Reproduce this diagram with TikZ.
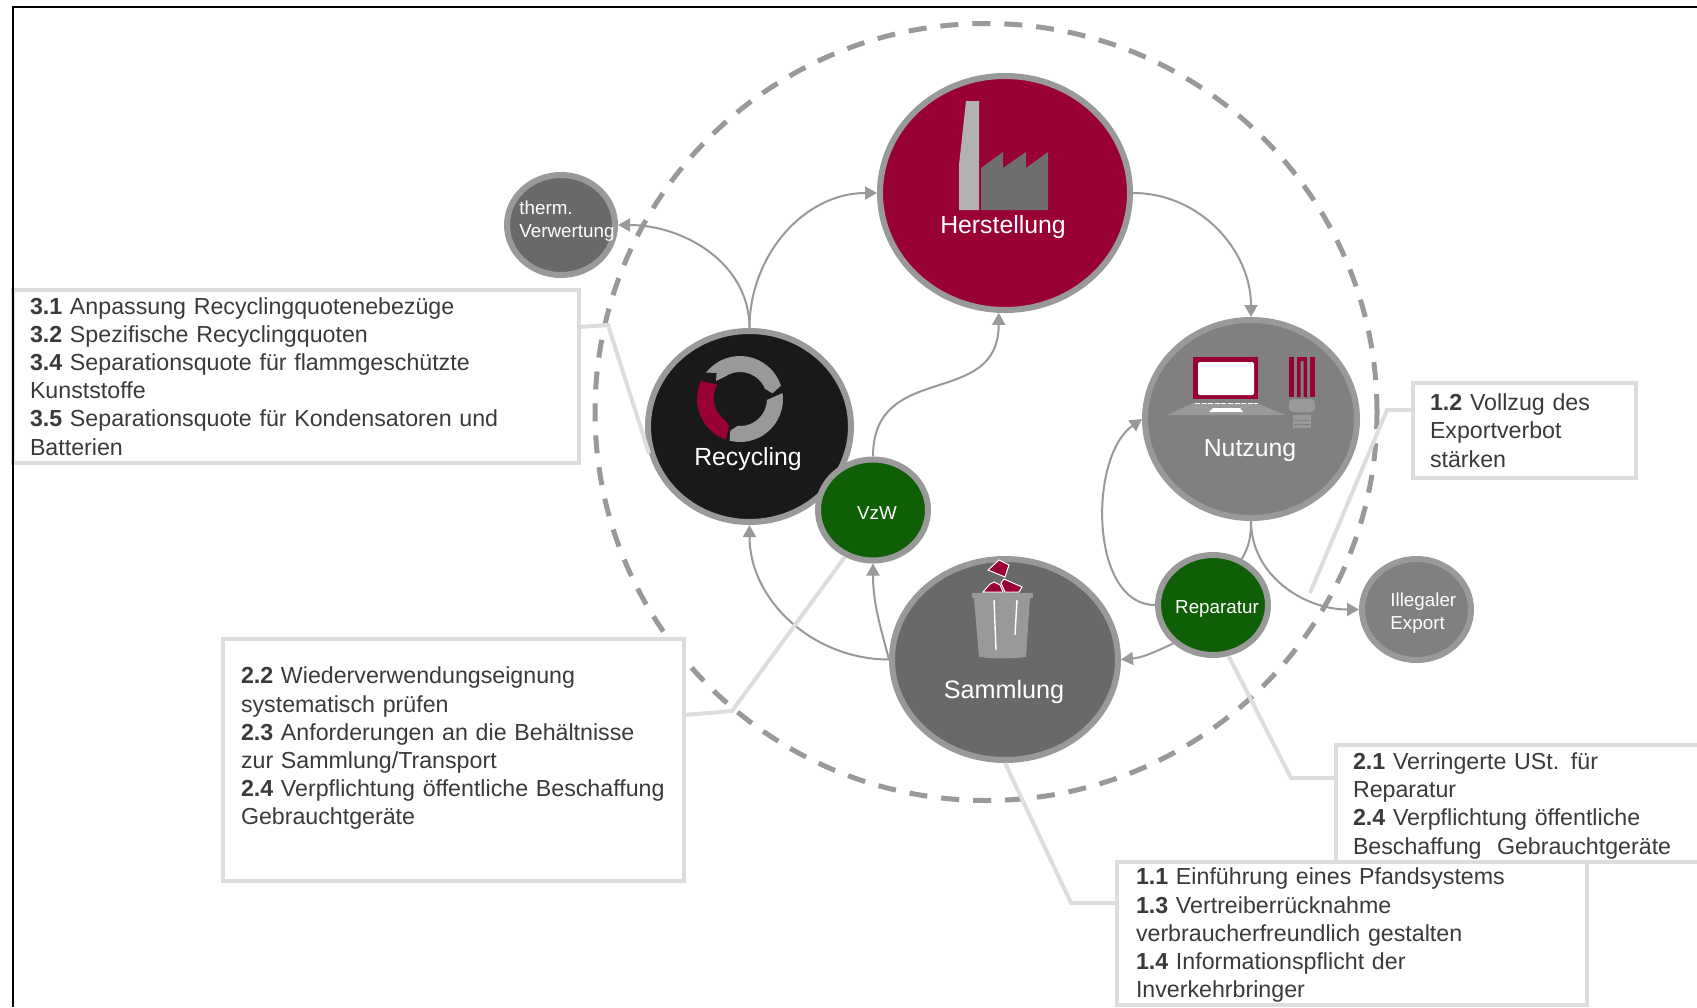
\documentclass[tikz,border=0pt]{standalone}
\usepackage{fontspec}
\setmainfont{Liberation Sans}
\usetikzlibrary{shapes.geometric,arrows.meta}
\definecolor{ringgray}{HTML}{999999}
\definecolor{wine}{HTML}{990033}
\definecolor{leafgreen}{HTML}{0F5F07}
\definecolor{notegray}{HTML}{DDDDDD}
\definecolor{notetext}{HTML}{3A3A3A}
\tikzset{
  stage/.style={ellipse,draw=ringgray,line width=3pt,inner sep=0pt},
  stagetext/.style={text=white,inner sep=0pt,font=\fontsize{12.4}{14}\selectfont},
  sidetext/.style={text=white,inner sep=0pt,align=left,font=\fontsize{9.4}{11.5}\selectfont},
  flow/.style={draw=ringgray,line width=1pt,-{Triangle[length=6pt,width=6.5pt]}},
  flowplain/.style={draw=ringgray,line width=1pt},
  leader/.style={draw=notegray,line width=2pt},
  note/.style={rectangle,draw=notegray,fill=white,line width=2pt,outer sep=0pt,anchor=north west,align=left,
    inner xsep=8.5pt,inner ysep=0pt,text=notetext,font=\fontsize{11.6}{14.1}\selectfont}
}
\begin{document}
\begin{tikzpicture}[x=0.5pt,y=0.5pt]
    \clip (0,0) rectangle (1697,-1007);
    \fill[white] (0,0) rectangle (1697,-1007);
    \node[ellipse,draw=ringgray,line width=2.5pt,dash pattern=on 9pt off 7pt,minimum width=391pt,minimum height=388.5pt,inner sep=0pt] (system) at (986,-412) {};

    \node[stage,fill=wine,minimum width=125pt,minimum height=117pt] (herstellung) at (1005,-193) {};
    \node[stage,fill=black!90,minimum width=101.5pt,minimum height=95.5pt] (recycling) at (749.5,-426.5) {};
    \node[stage,fill=black!50,minimum width=106pt,minimum height=99pt] (nutzung) at (1251,-419) {};
    \node[stage,fill=black!59,minimum width=113pt,minimum height=100.5pt] (sammlung) at (1005,-659.5) {};
    \node[stage,fill=black!59,minimum width=54pt,minimum height=50pt] (therm) at (561,-225) {};
    \node[stage,fill=black!50,minimum width=54.5pt,minimum height=50.5pt] (export) at (1416.5,-609.5) {};

    \draw[flow] (herstellung.east) to[out=0,in=90] (nutzung.north);
    \draw[flow] (recycling.north) to[out=90,in=180] (herstellung.west);
    \draw[flow] (recycling.north) to[out=90,in=0] (therm.east);
    \draw[flow] (nutzung.south) to[out=-90,in=180] (export.west);
    \draw[flow] (sammlung.west) to[out=180,in=-90] (recycling.south);

    \node[stage,fill=leafgreen,minimum width=55pt,minimum height=50.5pt] (vzw) at (873,-510) {};
    \node[stage,fill=leafgreen,minimum width=55pt,minimum height=50pt] (reparatur) at (1213,-605) {};

    \draw[flow] (vzw.north) to[out=90,in=-90,looseness=1.3] (herstellung.267);
    \draw[flow] (sammlung.west) to[out=105,in=-90] (vzw.south);
    \draw[flow] (reparatur.west) to[out=180,in=215,looseness=0.9] (nutzung.west);
    \draw[flow] (reparatur.224) to[out=205,in=5] (sammlung.east);
    \draw[flowplain] (nutzung.south) to[out=-90,in=60] (reparatur.58);

    \node[stagetext] (herstellungText) at (1003,-227) {Herstellung};
    \node[stagetext] (recyclingText) at (748,-459) {Recycling};
    \node[stagetext] (nutzungText) at (1250,-451) {Nutzung};
    \node[stagetext,font=\fontsize{12.6}{14}\selectfont] (sammlungText) at (1004,-692) {Sammlung};
    \node[sidetext] (vzwText) at (877,-513) {VzW};
    \node[sidetext] (reparaturText) at (1217,-609) {Reparatur};
    \node[sidetext,anchor=west] (exportText) at (1390,-613) {Illegaler\\Export};
    \node[sidetext,anchor=west] (thermText) at (519,-221.5) {therm.\\Verwertung};

    \fill[black!30] (966,-101) -- (979,-101) -- (979,-210) -- (959,-210) -- (959,-165) -- cycle;
    \fill[black!57] (981,-210) -- (981,-168) -- (1003,-152) -- (1003,-168) -- (1026,-152) -- (1026,-168) -- (1048,-152) -- (1048,-210) -- cycle;

    \begin{scope}[shift={(740,-399)}]
      \fill[ringgray] (142:43) arc[start angle=142,end angle=18,radius=43] -- (10:33) -- (22:27) arc[start angle=22,end angle=125,radius=27] -- (143:30) -- (132:35) -- cycle;
      \fill[ringgray] (8:43) arc[start angle=8,end angle=-104,radius=43] -- (-107:33) -- (-95:27) arc[start angle=-95,end angle=-2,radius=27] -- (3:33) -- cycle;
      \fill[wine] (155:43) arc[start angle=155,end angle=251,radius=43] -- (248:29) -- (235:26) arc[start angle=235,end angle=150,radius=27] -- cycle;
    \end{scope}

    \fill[wine] (1193,-357) rectangle (1258,-399);
    \fill[white,rounded corners=1pt] (1198,-362) rectangle (1254,-395);
    \fill[ringgray] (1167,-415) -- (1285,-415) -- (1257,-403) -- (1193,-403) -- cycle;
    \draw[white,line width=0.5pt,dash pattern=on 2.5pt off 0.8pt] (1195,-403) -- (1258,-403);
    \fill[white] (1209,-412) -- (1243,-412) -- (1240,-408) -- (1213,-408) -- cycle;

    \fill[wine] (1289,-357) rectangle (1294,-397);
    \fill[wine] (1310,-357) rectangle (1314.5,-397);
    \fill[wine] (1297,-397) -- (1297,-357) -- (1307,-357) -- (1307,-397) -- (1303.5,-397) -- (1303.5,-361) -- (1300.5,-361) -- (1300.5,-397) -- cycle;
    \fill[ringgray,rounded corners=2pt] (1289,-399) rectangle (1315,-412);
    \fill[ringgray] (1293,-415) rectangle (1311,-428);
    \draw[black!50,line width=0.4pt] (1294,-420) -- (1310,-420);
    \draw[black!50,line width=0.4pt] (1294,-424) -- (1310,-424);

    \fill[ringgray] (972,-593) rectangle (1033,-598);
    \fill[ringgray] (974,-598) -- (1030,-598) -- (1026,-657) to[bend left=6] (979,-657) -- cycle;
    \draw[white,line width=0.7pt] (994,-600) -- (996,-650);
    \draw[white,line width=0.7pt] (1017,-600) -- (1015,-635);
    \filldraw[wine,draw=white,line width=0.5pt] (988,-570) -- (999,-560) -- (1009,-565) -- (1005,-577) -- cycle;
    \filldraw[wine,draw=white,line width=0.5pt] (1001,-583) -- (1004,-579) -- (1022,-587) -- (1019,-592) -- (1005,-592) -- cycle;
    \filldraw[wine,draw=white,line width=0.5pt] (983,-592) -- (990,-584) -- (994,-582) -- (1000,-585) -- (1003,-592) -- cycle;

    \node[note,text width=266pt,minimum height=86.75pt] (noteRecycling) at (13,-289.5) {\textbf{3.1} Anpassung Recyclingquotenebezüge\\\textbf{3.2} Spezifische Recyclingquoten\\\textbf{3.4} Separationsquote für flammgeschützte\\Kunststoffe\\\textbf{3.5} Separationsquote für Kondensatoren und\\Batterien};
    \node[note,inner xsep=9pt,text width=212.5pt,minimum height=121pt] (noteVzw) at (223,-639) {\textbf{2.2} Wiederverwendungseignung\\systematisch prüfen\\\textbf{2.3} Anforderungen an die Behältnisse\\zur Sammlung/Transport\\\mbox{\textbf{2.4} Verpflichtung öffentliche Beschaffung}\\Gebrauchtgeräte\\\mbox{}};
    \node[note,text width=94.5pt,minimum height=47.5pt] (noteExport) at (1413,-383) {\textbf{1.2} Vollzug des\\Exportverbot\\stärken};
    \node[note,text width=173pt,minimum height=58.5pt] (noteReparatur) at (1336,-745) {\rule{0pt}{10.7pt}\textbf{2.1} Verringerte USt. für\\Reparatur\\\textbf{2.4} Verpflichtung öffentliche\\Beschaffung\ \ Gebrauchtgeräte};
    \node[note,inner xsep=9.5pt,text width=216pt,minimum height=71.5pt] (noteSammlung) at (1117,-862) {\rule{0pt}{10.1pt}\textbf{1.1} Einführung eines Pfandsystems\\\textbf{1.3} Vertreiberrücknahme\\verbraucherfreundlich gestalten\\\textbf{1.4} Informationspflicht der\\Inverkehrbringer};

    \coordinate (kneeRecycling) at (608,-325);
    \coordinate (kneeVzw) at (732,-711);
    \coordinate (kneeExport) at (1387,-410);
    \coordinate (endExport) at (1310,-593);
    \coordinate (kneeReparatur) at (1291,-778);
    \coordinate (kneeSammlung) at (1071,-903);
    \draw[leader] (noteRecycling.east |- 0,-327) -- (kneeRecycling) -- (recycling.195);
    \draw[leader] (noteVzw.east |- 0,-715) -- (kneeVzw) -- (vzw.239);
    \draw[leader] (noteExport.west |- kneeExport) -- (kneeExport) -- (endExport);
    \draw[leader] (noteReparatur.west |- kneeReparatur) -- (kneeReparatur) -- (reparatur.287);
    \draw[leader] (noteSammlung.west |- kneeSammlung) -- (kneeSammlung) -- (sammlung.south);

    \draw[black,line width=1.3pt] (13,-1007) -- (13,-7) -- (1697,-7);
\end{tikzpicture}
\end{document}
